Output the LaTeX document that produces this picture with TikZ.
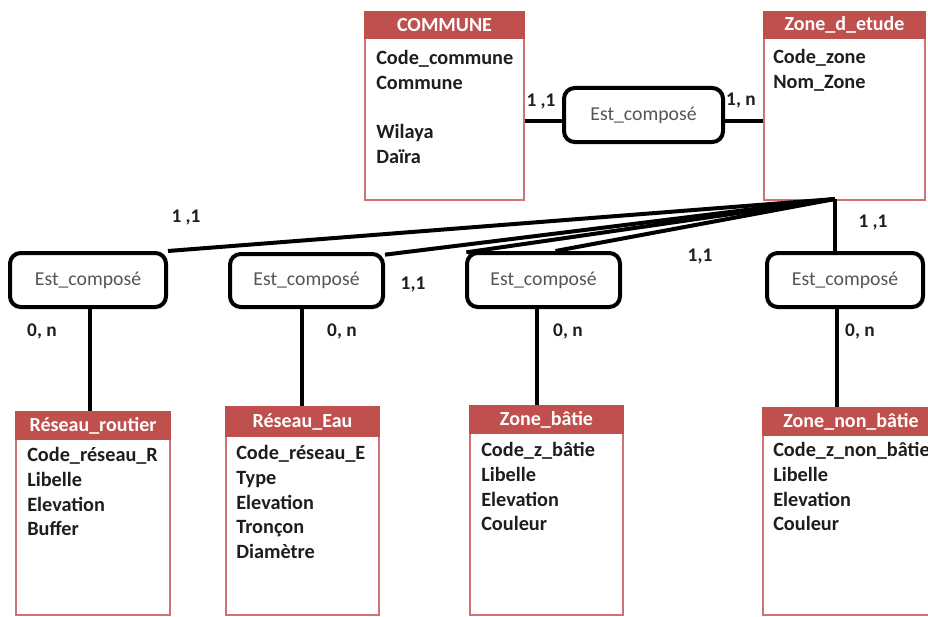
\documentclass[tikz,border=0pt]{standalone}
\usepackage{fontspec}
\setmainfont{Carlito}
\usetikzlibrary{calc,fit}
\definecolor{hdr}{RGB}{192,80,77}
\definecolor{assoctxt}{RGB}{85,85,85}
\definecolor{ink}{RGB}{30,30,30}
\begin{document}
\begin{tikzpicture}[x=0.75pt,y=-0.75pt,
  entbox/.style={draw=hdr!80, line width=0.9pt, fill=white, inner sep=0pt},
  enthead/.style={fill=hdr, draw=hdr, line width=0.9pt, inner sep=0pt},
  headtxt/.style={text=white, font=\fontsize{15}{17}\selectfont\bfseries, inner sep=0pt},
  attrs/.style={anchor=north west, align=left, font=\fontsize{15.2}{18.6}\selectfont\bfseries, inner sep=0pt, text=ink},
  assoc/.style={draw=black, line width=3pt, rounded corners=8pt, fill=white, inner sep=0pt},
  assoctext/.style={font=\fontsize{14.8}{17}\selectfont, text=assoctxt, inner sep=0pt},
  link/.style={line width=3pt, draw=black},
  card/.style={font=\fontsize{14.5}{17}\selectfont\bfseries, text=ink, inner sep=0pt}
]
\path[use as bounding box] (0,0) rectangle (928,617);
\clip (0,0) rectangle (928,617);

% ---------- entities ----------
% COMMUNE
\node[entbox, fit={(365,12) (524,200)}] (commune) {};
\node[enthead, fit={(365,12) (524,38)}] (communeh) {};
\node[headtxt] (communet) at (communeh.center) {COMMUNE};
\node[attrs] (communea) at (376,50) {Code\_commune\\Commune\\[18.6pt]Wilaya\\Daïra};

% Zone_d_etude
\node[entbox, fit={(764,12) (925,200)}] (zone) {};
\node[enthead, fit={(764,12) (925,38)}] (zoneh) {};
\node[headtxt] (zonet) at (zoneh.center) {Zone\_d\_etude};
\node[attrs] (zonea) at (773,49) {Code\_zone\\Nom\_Zone};

% Reseau_routier
\node[entbox, fit={(16,412) (170,615)}] (rr) {};
\node[enthead, fit={(16,412) (170,439)}] (rrh) {};
\node[headtxt] (rrt) at (rrh.center) {Réseau\_routier};
\node[attrs] (rra) at (27,447) {Code\_réseau\_R\\Libelle\\Elevation\\Buffer};

% Reseau_Eau
\node[entbox, fit={(226,407) (379,615)}] (re) {};
\node[enthead, fit={(226,407) (379,436)}] (reh) {};
\node[headtxt] (ret) at (reh.center) {Réseau\_Eau};
\node[attrs] (rea) at (236,445) {Code\_réseau\_E\\Type\\Elevation\\Tronçon\\Diamètre};

% Zone_batie
\node[entbox, fit={(470,406) (623,615)}] (zb) {};
\node[enthead, fit={(470,406) (623,433)}] (zbh) {};
\node[headtxt] (zbt) at (zbh.center) {Zone\_bâtie};
\node[attrs] (zba) at (481,442) {Code\_z\_bâtie\\Libelle\\Elevation\\Couleur};

% Zone_non_batie
\node[entbox, fit={(763,408) (940,615)}] (znb) {};
\node[enthead, fit={(763,408) (940,435)}] (znbh) {};
\node[headtxt] (znbt) at (851,421.5) {Zone\_non\_bâtie};
\node[attrs] (znba) at (773,442) {Code\_z\_non\_bâtie\\Libelle\\Elevation\\Couleur};

% ---------- associations ----------
\node[assoc, fit={(564,88) (723,142)}] (ac) {};
\node[assoctext] at (ac.center) {Est\_composé};
\node[assoc, fit={(10,253) (166,307)}] (a1) {};
\node[assoctext] at (a1.center) {Est\_composé};
\node[assoc, fit={(230,254) (383,307)}] (a2) {};
\node[assoctext] at (a2.center) {Est\_composé};
\node[assoc, fit={(467,253) (620,307)}] (a3) {};
\node[assoctext] at (a3.center) {Est\_composé};
\node[assoc, fit={(767,253) (923,307)}] (a4) {};
\node[assoctext] at (a4.center) {Est\_composé};

% ---------- connectors ----------
\coordinate (hub) at (835,199);
\draw[link] ([yshift=-4.5pt]ac.west) -- ([yshift=-4.5pt]ac.west -| commune.east);
\draw[link] ([yshift=-4.5pt]ac.east) -- ([yshift=-4.5pt]ac.east -| zone.west);
\draw[link, line join=round] (hub) -- (a1.north east);
\draw[link, line join=round] (hub) -- ([yshift=-2pt]a2.north east);
\draw[link, line join=round] (hub) -- ([xshift=1pt,yshift=-1pt]a3.north west);
\draw[link, line join=round] (hub) -- ([xshift=9pt]a3.north);
\draw[link] (hub) -- (hub |- a4.north);

\coordinate (v1) at (90,307);
\coordinate (v2) at (302,307);
\coordinate (v3) at (537,307);
\coordinate (v4) at (837,307);
\draw[link] (v1 |- a1.south) -- (v1 |- rr.north);
\draw[link] (v2 |- a2.south) -- (v2 |- re.north);
\draw[link] (v3 |- a3.south) -- (v3 |- zb.north);
\draw[link] (v4 |- a4.south) -- (v4 |- znb.north);

% ---------- cardinalities ----------
\node[card] (c0) at (541,102) {1 ,1};
\node[card] (c1) at (741,101) {1, n};
\node[card] (c2) at (186,218) {1 ,1};
\node[card] (c3) at (413,285) {1,1};
\node[card] (c4) at (700,257) {1,1};
\node[card] (c5) at (873,223) {1 ,1};
\node[card] (d1) at (42,331) {0, n};
\node[card] (d2) at (342,331) {0, n};
\node[card] (d3) at (568,331) {0, n};
\node[card] (d4) at (860,331) {0, n};
\end{tikzpicture}
\end{document}
